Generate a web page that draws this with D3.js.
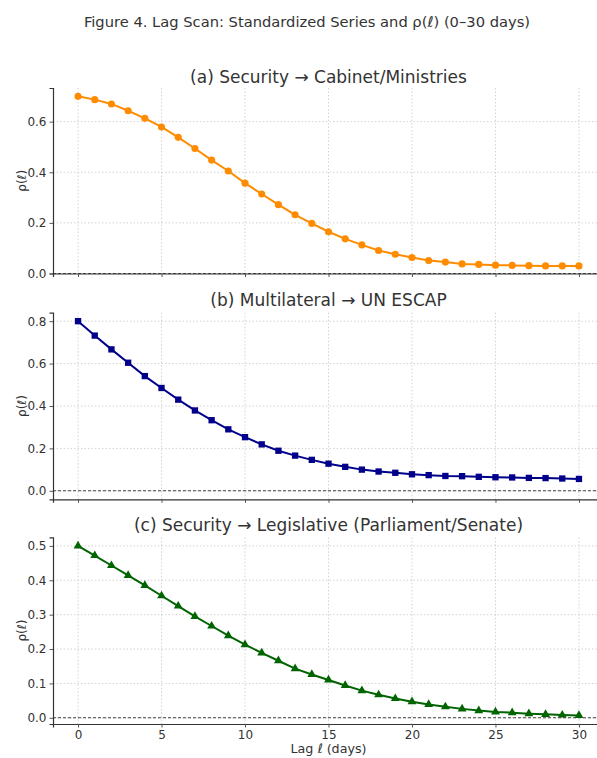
<!DOCTYPE html>
<html>
<head>
<meta charset="utf-8">
<script src="https://cdn.jsdelivr.net/npm/d3@7"></script>
<style>
  body { margin:0; background:#fff; }
  svg { display:block; font-family:"DejaVu Sans", sans-serif; }
</style>
</head>
<body>
<div id="chart"></div>
<script>
const lags = d3.range(0, 31);
const secCabinet = [0.700,0.687,0.670,0.643,0.613,0.579,0.538,0.494,0.448,0.405,0.357,0.314,0.272,0.232,0.198,0.165,0.137,0.113,0.091,0.076,0.063,0.051,0.045,0.038,0.036,0.033,0.032,0.031,0.030,0.030,0.030];
const multiEscap = [0.800,0.732,0.667,0.604,0.541,0.485,0.430,0.379,0.333,0.290,0.253,0.219,0.189,0.166,0.146,0.128,0.113,0.100,0.091,0.085,0.078,0.074,0.070,0.069,0.066,0.064,0.063,0.061,0.060,0.058,0.056];
const secLegis = [0.500,0.472,0.443,0.414,0.385,0.355,0.325,0.295,0.267,0.239,0.213,0.189,0.166,0.143,0.126,0.110,0.094,0.079,0.067,0.056,0.047,0.039,0.032,0.026,0.021,0.017,0.015,0.012,0.010,0.008,0.007];
const panelTitles = ["(a) Security \u2192 Cabinet/Ministries", "(b) Multilateral \u2192 UN ESCAP", "(c) Security \u2192 Legislative (Parliament/Senate)"];
const xTicks = [0, 5, 10, 15, 20, 25, 30];
const yTicksA = [0.0, 0.2, 0.4, 0.6];
const yTicksB = [0.0, 0.2, 0.4, 0.6, 0.8];
const yTicksC = [0.0, 0.1, 0.2, 0.3, 0.4, 0.5];

const W = 597, H = 758;
const svg = d3.select("#chart").append("svg").attr("width", W).attr("height", H);
const ink = "#333";

svg.append("text").attr("x", 307).attr("y", 27).attr("text-anchor", "middle")
  .attr("font-size", 14.7).attr("fill", ink)
  .text("Figure 4. Lag Scan: Standardized Series and \u03c1(\u2113) (0\u201330 days)");

const x = d3.scaleLinear().domain([-1.5, 31.5]).range([53, 604]);

const panels = [
  { values: secCabinet, ticks: yTicksA, dom: [0, 0.733], top: 88, bottom: 273.5, color: "#ff8c00", marker: d3.symbolCircle, size: 40, title: panelTitles[0], ty: 82.5 },
  { values: multiEscap, ticks: yTicksB, dom: [-0.04, 0.84], top: 312.7, bottom: 499.3, color: "#00008b", marker: d3.symbolSquare, size: 40, title: panelTitles[1], ty: 306 },
  { values: secLegis, ticks: yTicksC, dom: [-0.018, 0.525], top: 537.3, bottom: 724, color: "#006400", marker: d3.symbolTriangle, size: 34, title: panelTitles[2], ty: 531 }
];

panels.forEach((p, pi) => {
  const y = d3.scaleLinear().domain(p.dom).range([p.bottom, p.top]);
  const g = svg.append("g");

  // grid
  g.selectAll(".gx").data(xTicks).enter().append("line")
    .attr("x1", d => x(d)).attr("x2", d => x(d))
    .attr("y1", p.top).attr("y2", p.bottom)
    .attr("stroke", "#c8c8c8").attr("stroke-width", 0.8).attr("stroke-dasharray", "1.5,2");
  g.selectAll(".gy").data(p.ticks).enter().append("line")
    .attr("x1", 53).attr("x2", W)
    .attr("y1", d => y(d)).attr("y2", d => y(d))
    .attr("stroke", "#c8c8c8").attr("stroke-width", 0.8).attr("stroke-dasharray", "1.5,2");

  // zero line
  g.append("line").attr("x1", 53).attr("x2", W).attr("y1", y(0)).attr("y2", y(0))
    .attr("stroke", "#444").attr("stroke-width", 1.1).attr("stroke-dasharray", "3,2");

  // axes
  const ya = g.append("g").attr("transform", "translate(53,0)")
    .call(d3.axisLeft(y).tickValues(p.ticks).tickFormat(d3.format(".1f")).tickSize(3.5).tickPadding(3));
  const xa = g.append("g").attr("transform", `translate(0,${p.bottom})`)
    .call(d3.axisBottom(x).tickValues(xTicks).tickSize(3.5).tickPadding(3).tickFormat(pi === 2 ? d3.format("d") : ""));
  [ya, xa].forEach(a => {
    a.select(".domain").attr("stroke", ink).attr("stroke-width", 1.2);
    a.selectAll(".tick line").attr("stroke", "#555");
    a.selectAll("text").attr("font-size", 12).attr("fill", ink).attr("font-family", "DejaVu Sans, sans-serif");
  });

  // line + markers
  const line = d3.line().x((d, i) => x(lags[i])).y(d => y(d));
  g.append("path").datum(p.values).attr("d", line)
    .attr("fill", "none").attr("stroke", p.color).attr("stroke-width", 2);
  g.selectAll(".m").data(p.values).enter().append("path")
    .attr("transform", (d, i) => `translate(${x(lags[i])},${y(d)})`)
    .attr("d", d3.symbol().type(p.marker).size(p.size))
    .attr("fill", p.color);

  // title and y label
  svg.append("text").attr("x", 328.5).attr("y", p.ty).attr("text-anchor", "middle")
    .attr("font-size", 17).attr("fill", ink).text(p.title);
  svg.append("text")
    .attr("transform", `translate(26,${(p.top + p.bottom) / 2}) rotate(-90)`)
    .attr("text-anchor", "middle").attr("font-size", 12).attr("fill", ink)
    .text("\u03c1(\u2113)");
});

svg.append("text").attr("x", 328.5).attr("y", 753).attr("text-anchor", "middle")
  .attr("font-size", 12.7).attr("fill", ink).text("Lag \u2113 (days)");
</script>
</body>
</html>
